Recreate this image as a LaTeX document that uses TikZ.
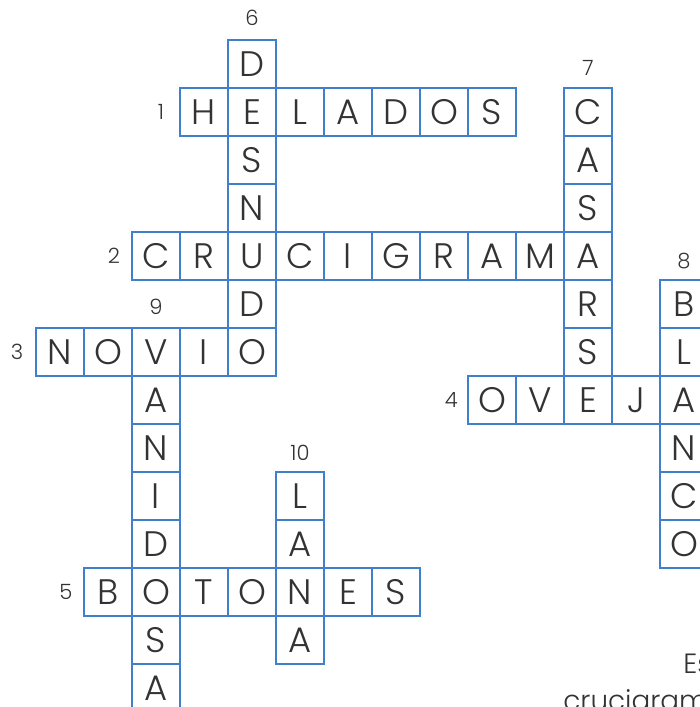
\documentclass[tikz,border=0pt]{standalone}
\usepackage{fontspec}
\setmainfont{Poppins}[UprightFont={* Light}]
\usepackage{tikz}
\usetikzlibrary{calc}
\definecolor{cellblue}{HTML}{3F80C8}
\definecolor{inkgray}{HTML}{333333}
\tikzset{
  cell/.style={draw=cellblue, line width=0.85pt, minimum size=1cm, inner sep=0pt,
    text=inkgray, font=\fontsize{21}{21}\selectfont},
  clue/.style={text=inkgray, inner sep=0pt, font=\fontsize{12.5}{12.5}\selectfont},
  note/.style={text=inkgray, inner sep=0pt, anchor=base west, font=\fontsize{16.5}{16.5}\selectfont}
}
% empty entries {} mark cells shared with an across word
\def\across#1#2#3#4{\foreach \l [count=\i from 0] in {#4} \node[cell] (#1\i) at (#2+\i+0.5, -#3-0.5) {\l};}
\def\down#1#2#3#4{\foreach \l [count=\i from 0] in {#4} \node[cell] (#1\i) at (#2+0.5, -#3-\i-0.5) {\l};}

\begin{document}
\begin{tikzpicture}
			%%%%% START %%%%%
			\useasboundingbox (-0.75, 0.8333) rectangle (13.8333, -13.8958);
			\clip (-0.75, 0.8333) rectangle (13.8333, -13.8958);
			
			\across{helados}{3}{1}{H,E,L,A,D,O,S}
			\across{crucigrama}{2}{4}{C,R,U,C,I,G,R,A,M,A}
			\across{novio}{0}{6}{N,O,V,I,O}
			\across{oveja}{9}{7}{O,V,E,J,A}
			\across{botones}{1}{11}{B,O,T,O,N,E,S}
			
			\down{desnudo}{4}{0}{D,{},S,N,{},D,{}}
			\down{casarse}{11}{1}{C,A,S,{},R,S,{}}
			\down{blanco}{13}{5}{B,L,{},N,C,O}
			\down{vanidosa}{2}{6}{{},A,N,I,D,{},S,A}
			\down{lana}{5}{9}{L,A,{},A}
			
			\node[clue] (num1) at ($(helados0.west)+(-0.38,0)$) {1};
			\node[clue] (num2) at ($(crucigrama0.west)+(-0.36,0)$) {2};
			\node[clue] (num3) at ($(novio0.west)+(-0.38,0)$) {3};
			\node[clue] (num4) at ($(oveja0.west)+(-0.33,0)$) {4};
			\node[clue] (num5) at ($(botones0.west)+(-0.36,0)$) {5};
			\node[clue] (num6) at ($(desnudo0.north)+(0,0.45)$) {6};
			\node[clue] (num7) at ($(casarse0.north)+(0,0.4)$) {7};
			\node[clue] (num8) at ($(blanco0.north)+(0,0.38)$) {8};
			\node[clue] (num9) at ($(vanidosa0.north)+(0,0.43)$) {9};
			\node[clue] (num10) at ($(lana0.north)+(0,0.38)$) {10};
			
			\node[note] (note1) at (13.48, -13.19) {Es};
			\node[note] (note2) at (10.98, -13.96) {crucigrama d};
			
			%%%%% END %%%%%
		\end{tikzpicture}
\end{document}
